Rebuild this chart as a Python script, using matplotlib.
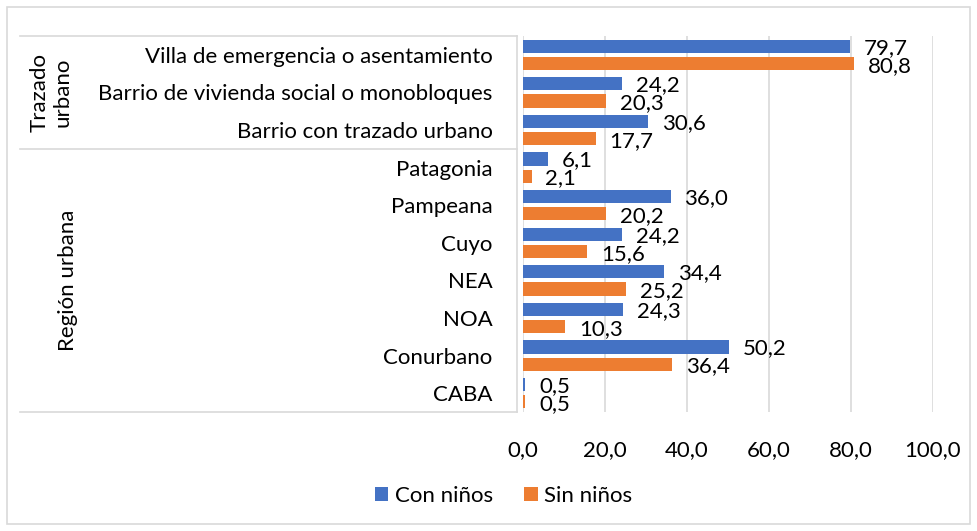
import matplotlib
matplotlib.use("Agg")
import matplotlib.pyplot as plt
from matplotlib.lines import Line2D
from matplotlib.patches import Rectangle
import numpy as np

# === DATA ====================================================================
categories = ["Villa de emergencia o asentamiento",
              "Barrio de vivienda social o monobloques",
              "Barrio con trazado urbano",
              "Patagonia", "Pampeana", "Cuyo", "NEA", "NOA",
              "Conurbano", "CABA"]
con_ninos = [79.7, 24.2, 30.6, 6.1, 36.0, 24.2, 34.4, 24.3, 50.2, 0.5]
sin_ninos = [80.8, 20.3, 17.7, 2.1, 20.2, 15.6, 25.2, 10.3, 36.4, 0.5]
groups = [("Trazado\nurbano", 0, 2), ("Región urbana", 3, 9)]
x_ticks = [0, 20, 40, 60, 80, 100]

BLUE = "#4472C4"
ORANGE = "#ED7D31"
GRID = "#D9D9D9"
plt.rcParams["font.family"] = ["Lato", "DejaVu Sans"]
FS = 16

W, H = 978, 531
fig = plt.figure(figsize=(W / 100, H / 100), dpi=100)
ax = fig.add_axes([523 / W, 1 - 412 / H, 410 / W, 376 / H])

y = np.arange(len(categories))
bh = 0.35
ax.barh(y - 0.23, con_ninos, height=bh, color=BLUE, label="Con niños", zorder=3)
ax.barh(y + 0.23, sin_ninos, height=bh, color=ORANGE, label="Sin niños", zorder=3)

def fmt(v):
    return f"{v:.1f}".replace(".", ",")

for yi, v in zip(y, con_ninos):
    ax.annotate(fmt(v), (v, yi - 0.19), xytext=(10, 0), textcoords="offset points",
                va="center", ha="left", fontsize=FS, color="#000000")
for yi, v in zip(y, sin_ninos):
    ax.annotate(fmt(v), (v, yi + 0.29), xytext=(10, 0), textcoords="offset points",
                va="center", ha="left", fontsize=FS, color="#000000")

ax.set_xlim(0, 100)
ax.set_ylim(len(categories) - 0.5, -0.5)
ax.set_xticks(x_ticks)
ax.set_xticklabels([fmt(t) for t in x_ticks], fontsize=FS)
ax.set_yticks(y)
ax.set_yticklabels(categories, fontsize=FS)
ax.tick_params(axis="y", length=0, pad=22)
ax.tick_params(axis="x", length=0, pad=20)
ax.grid(axis="x", color=GRID, lw=1.2, zorder=0)
for s in ax.spines.values():
    s.set_visible(False)

# group label box
trans = ax.get_yaxis_transform()
xl, xr = -503 / 410, -6 / 410
for yy in [-0.5, 2.5, 9.5]:
    ax.add_line(Line2D([xl, xr], [yy, yy], transform=trans, color=GRID,
                       lw=1.2, clip_on=False))
ax.add_line(Line2D([xr, xr], [-0.5, 9.5], transform=trans, color=GRID,
                   lw=1.2, clip_on=False))
gx = {"Trazado\nurbano": -472 / 410, "Región urbana": -455 / 410}
for name, a, b in groups:
    ax.text(gx[name], (a + b) / 2, name, transform=trans, rotation=90,
            ha="center", va="center", fontsize=FS, linespacing=1.2)

fig.legend(loc="center", bbox_to_anchor=(0.515, 1 - 496 / H), ncol=2,
           frameon=False, fontsize=FS, handlelength=0.6, handleheight=0.6,
           handletextpad=0.3, columnspacing=1.4)

fig.add_artist(Rectangle((7 / W, 7 / H), 963 / W, 517 / H, transform=fig.transFigure,
                         fill=False, edgecolor=GRID, lw=1.2))

fig.savefig("out.png", dpi=100)
